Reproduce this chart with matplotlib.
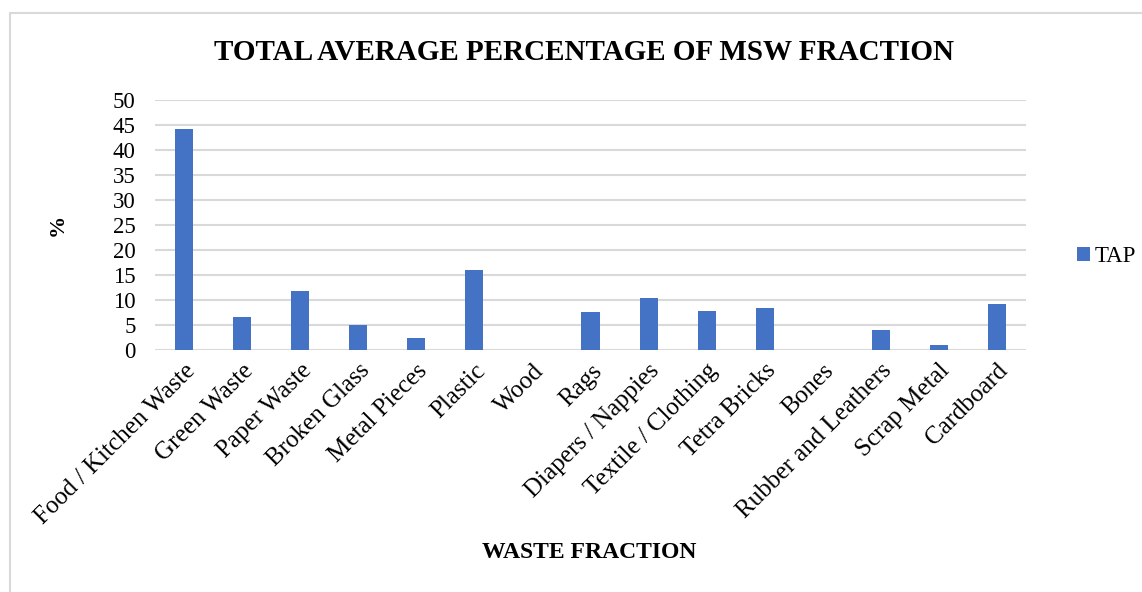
import matplotlib
matplotlib.use("Agg")
import matplotlib.pyplot as plt
from matplotlib.patches import Rectangle

categories = ["Food / Kitchen Waste", "Green Waste", "Paper Waste", "Broken Glass",
              "Metal Pieces", "Plastic", "Wood", "Rags", "Diapers / Nappies",
              "Textile / Clothing", "Tetra Bricks", "Bones", "Rubber and Leathers",
              "Scrap Metal", "Cardboard"]
tap_values = [44.2, 6.7, 11.9, 5.1, 2.4, 16.1, 0, 7.6, 10.5, 7.9, 8.5, 0, 4.1, 1.0, 9.2]
yticks = [0, 5, 10, 15, 20, 25, 30, 35, 40, 45, 50]

plt.rcParams['font.family'] = ['Liberation Serif', 'DejaVu Serif']

W, H = 1142, 592
fig = plt.figure(figsize=(W/100, H/100), dpi=100)

# outer chart border
fig.patches.append(Rectangle((10/W, -0.1), 1.2, 1 - 13/H + 0.1, transform=fig.transFigure,
                             fill=False, edgecolor='#d9d9d9', linewidth=1.5))

ax = fig.add_axes([155/W, 1 - 350/H, (1026-155)/W, (350-100)/H])
x = range(len(categories))
ax.bar(x, tap_values, width=0.31, color='#4472C4', label='TAP', zorder=3)
ax.set_ylim(0, 50)
ax.set_xlim(-0.5, len(categories) - 0.5)
ax.set_yticks(yticks)
ax.set_yticklabels([str(v) for v in yticks], fontsize=16.5)
ax.set_xticks(list(x))
ax.set_xticklabels(categories, rotation=45, ha='right', rotation_mode='anchor', fontsize=18)
ax.tick_params(axis='y', length=0, pad=14)
ax.tick_params(axis='x', length=0, pad=7)
ax.grid(axis='y', color='#d9d9d9', linewidth=1.5, zorder=0)
for s in ax.spines.values():
    s.set_visible(False)

fig.text(584/W, 1 - 52/H, "TOTAL AVERAGE PERCENTAGE OF MSW FRACTION", ha='center', va='center',
         fontsize=21, fontweight='bold')
fig.text(589/W, 1 - 553/H, "WASTE FRACTION", ha='center', va='center', fontsize=17, fontweight='bold')
fig.text(58/W, 1 - 225/H, "%", ha='center', va='center', rotation=90, fontsize=16, fontweight='bold')

ax.legend(loc='center left', bbox_to_anchor=(1077/W, 1 - 257/H), bbox_transform=fig.transFigure,
          frameon=False, fontsize=16.5, handlelength=0.55, handleheight=0.55, handletextpad=0.2,
          borderaxespad=0, borderpad=0)

fig.savefig("out.png", dpi=100)
